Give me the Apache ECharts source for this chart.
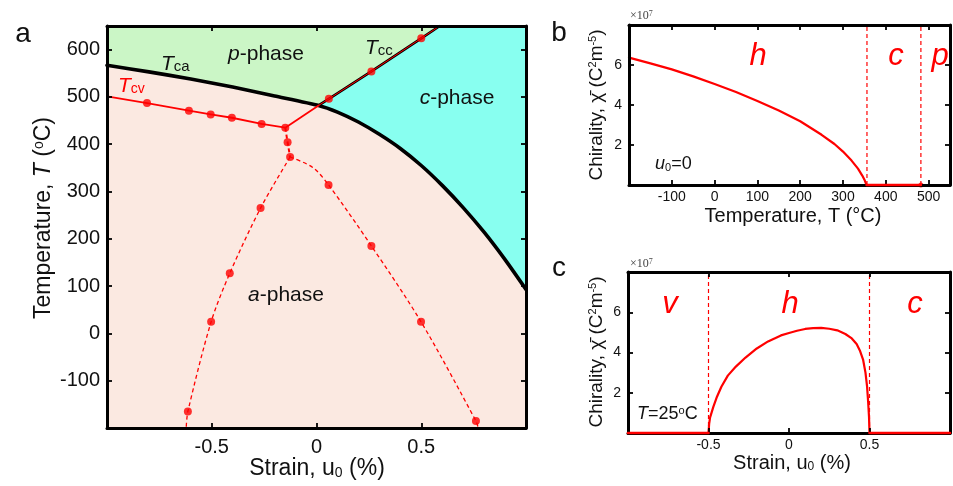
<!DOCTYPE html>
<html><head><meta charset="utf-8">
<script src="https://cdn.jsdelivr.net/npm/echarts@6/dist/echarts.min.js"></script>
<style>html,body{margin:0;padding:0;background:#fff}#c{width:953px;height:486px}</style>
</head><body><div id="c"></div>
<script>
// ---------- Panel a: phase diagram (strain %, temperature °C) ----------
const tcaLeft = [[-1,567],[-0.8,553],[-0.6,538],[-0.4,521],[-0.2,502],[0.01,482]];
const tacRight = [[0.01,482],[0.1,468],[0.2,447],[0.3,421],[0.4,391],[0.5,355],[0.6,313],[0.7,266],[0.8,214],[0.9,156],[1.0,93]];
const tccLine = [[0.01,482],[0.059,496],[0.262,554],[0.5,624],[0.588,650]];
const tccDots = [[0.059,496],[0.262,554],[0.5,624]];
const tcvLine = [[-1,501],[-0.809,487],[-0.609,471],[-0.505,463],[-0.404,456],[-0.262,443],[-0.149,435],[0.01,482]];
const tcvDots = [[-0.809,487],[-0.609,471],[-0.505,463],[-0.404,456],[-0.262,443],[-0.149,435]];
const stemLine = [[-0.149,435],[-0.138,404],[-0.126,373]];
const leftBranch = [[-0.126,373],[-0.267,265],[-0.414,127],[-0.503,24.5],[-0.614,-165],[-0.622,-200]];
const rightBranch = [[-0.126,373],[-0.018,351],[0.0575,314],[0.262,185],[0.499,24.5],[0.761,-185],[0.772,-200]];
const branchDots = [[-0.138,404],[-0.126,373],[-0.267,265],[-0.414,127],[-0.503,24.5],[-0.614,-165],[0.0575,314],[0.262,185],[0.499,24.5],[0.761,-185]];
const aXTicks = [-0.5,0,0.5];
const aYTicks = [-100,0,100,200,300,400,500,600];

// ---------- Panel b: chirality vs temperature (u0 = 0) ----------
const chiT = [[-200,6.37],[-150,6.08],[-100,5.78],[-50,5.43],[0,5.05],[50,4.65],[100,4.2],[150,3.72],[200,3.19],[250,2.51],[280,2.05],[300,1.67],[320,1.22],[335,0.82],[345,0.47],[351,0.22],[355,0]];
const chiTZero = [[355,0],[482,0]];
const bBounds = [356,482];
const bXTicks = [-100,0,100,200,300,400,500];
const bYTicks = [2,4,6];

// ---------- Panel c: chirality vs strain (T = 25 °C) ----------
const chiU = [[-0.5,0],[-0.496,0.45],[-0.49,0.78],[-0.47,1.3],[-0.45,1.75],[-0.42,2.3],[-0.38,2.85],[-0.33,3.3],[-0.27,3.75],[-0.2,4.2],[-0.13,4.55],[-0.05,4.85],[0,4.97],[0.05,5.08],[0.1,5.17],[0.15,5.21],[0.2,5.22],[0.25,5.18],[0.3,5.1],[0.35,4.92],[0.39,4.7],[0.42,4.42],[0.44,4.1],[0.46,3.65],[0.475,3.0],[0.485,2.3],[0.492,1.5],[0.497,0.8],[0.5,0]];
const chiUZeroL = [[-1,0],[-0.5,0]];
const chiUZeroR = [[0.5,0],[1,0]];
const cBounds = [-0.5,0.5];
const cXTicks = [-0.5,0,0.5];
const cYTicks = [2,4,6];

const FF = 'Liberation Sans, Arial, Helvetica, sans-serif';
const RED = '#ff0000';
const fmt = (arr) => (v) => arr.some(t => Math.abs(t - v) < 1e-9) ? String(v) : '';

function xAxes(gi, min, max, interval, ticks, fs, margin, lw) {
  const base = {
    gridIndex: gi, type: 'value', min, max, interval, z: 10,
    axisLine: {show: true, onZero: false, lineStyle: {color: '#000', width: lw}},
    axisTick: {show: true, inside: true, length: 5, lineStyle: {color: '#000', width: 1.8}},
    splitLine: {show: false}
  };
  return [
    Object.assign({}, base, {position: 'bottom', axisLabel: {formatter: fmt(ticks), fontSize: fs, color: '#111', fontFamily: FF, margin}}),
    Object.assign({}, base, {position: 'top', axisLabel: {show: false}})
  ];
}
function yAxes(gi, min, max, interval, ticks, fs, margin, lw) {
  const base = {
    gridIndex: gi, type: 'value', min, max, interval, z: 10,
    axisLine: {show: true, onZero: false, lineStyle: {color: '#000', width: lw}},
    axisTick: {show: true, inside: true, length: 5, lineStyle: {color: '#000', width: 1.8}},
    splitLine: {show: false}
  };
  return [
    Object.assign({}, base, {position: 'left', axisLabel: {formatter: fmt(ticks), fontSize: fs, color: '#111', fontFamily: FF, margin}}),
    Object.assign({}, base, {position: 'right', axisLabel: {show: false}})
  ];
}

const xAxis = [].concat(
  xAxes(0, -1, 1, 0.5, aXTicks, 20, 9, 3),
  xAxes(1, -200, 550, 100, bXTicks, 14, 5, 3),
  xAxes(2, -1, 1, 0.5, cXTicks, 14, 5, 3)
);
const yAxis = [].concat(
  yAxes(0, -200, 650, 100, aYTicks, 20, 7, 3),
  yAxes(1, 0, 8, 2, bYTicks, 14, 7, 3),
  yAxes(2, 0, 8, 2, cYTicks, 14, 7, 3)
);

const blackBoundary = tcaLeft.concat(tacRight.slice(1));
const greenBoundary = tcaLeft.concat(tccLine.slice(1), [[1,650]]);

function line(xi, yi, data, color, width, extra) {
  return Object.assign({type: 'line', xAxisIndex: xi, yAxisIndex: yi, data, showSymbol: false, symbol: 'none',
    lineStyle: {color, width, cap: 'round', join: 'round'}, animation: false, silent: true}, extra || {});
}
function dots(xi, yi, data, size) {
  return {type: 'scatter', xAxisIndex: xi, yAxisIndex: yi, data, symbolSize: size, itemStyle: {color: RED}, z: 6, animation: false, silent: true};
}
const dash = (w) => ({color: RED, width: w, type: [4, 3]});

const series = [
  // panel a fills
  line(0, 0, blackBoundary, 'transparent', 0, {smooth: 0.2, areaStyle: {origin: 'end', color: '#88fff0', opacity: 1}, z: 1}),
  line(0, 0, greenBoundary, 'transparent', 0, {areaStyle: {origin: 'end', color: '#cbf6c6', opacity: 1}, z: 1.5}),
  // panel a lines
  line(0, 0, blackBoundary, '#000', 3.6, {smooth: 0.2, z: 4}),
  line(0, 0, tccLine, '#000', 2.6, {z: 4}),
  line(0, 0, tccLine, RED, 1, {z: 5}),
  line(0, 0, tcvLine, RED, 1.8, {z: 5}),
  line(0, 0, stemLine, RED, 2, {z: 5, lineStyle: dash(2)}),
  line(0, 0, leftBranch, RED, 1.3, {smooth: 0.3, z: 5, lineStyle: dash(1.3)}),
  line(0, 0, rightBranch, RED, 1.3, {smooth: 0.3, z: 5, lineStyle: dash(1.3)}),
  dots(0, 0, tcvDots, 8),
  dots(0, 0, tccDots, 8),
  dots(0, 0, branchDots, 8),
  // panel b
  line(2, 2, chiT, RED, 2.2, {z: 5}),
  line(2, 2, chiTZero, RED, 2.6, {z: 20, clip: false}),
  dots(2, 2, [chiTZero[1]], 5),
].concat(
  bBounds.map(b => line(2, 2, [[b, 0], [b, 8]], RED, 1.2, {z: 4, lineStyle: dash(1.2)})),
  [
    line(4, 4, chiU, RED, 2.2, {z: 5}),
    line(4, 4, chiUZeroL, RED, 2.6, {z: 20, clip: false}),
    line(4, 4, chiUZeroR, RED, 2.6, {z: 20, clip: false})
  ],
  cBounds.map(b => line(4, 4, [[b, 0], [b, 8]], RED, 1.2, {z: 4, lineStyle: dash(1.2)}))
);

function txt(x, y, text, size, o) {
  o = o || {};
  return {
    type: 'text', x, y, rotation: o.rot || 0, z: 100, silent: true,
    style: {
      text, fontSize: size, fontFamily: o.ff || FF, fill: o.color || '#111',
      fontStyle: o.italic ? 'italic' : 'normal',
      align: o.align || 'center', verticalAlign: 'middle',
      rich: o.rich
    }
  };
}
const richA = (fs) => ({
  it: {fontStyle: 'italic', fontSize: fs, fontFamily: FF, fill: '#111'},
  sup: {fontSize: Math.round(fs * 0.6), fontFamily: FF, fill: '#111', verticalAlign: 'top', padding: [0, 0, Math.round(fs*0.35), 0]},
  sub: {fontSize: Math.round(fs * 0.6), fontFamily: FF, fill: '#111', verticalAlign: 'bottom', padding: [Math.round(fs*0.3), 0, 0, 0]},
  n: {fontSize: fs, fontFamily: FF, fill: '#111'}
});
const richT = (fs, sfs, color) => ({
  T: {fontStyle: 'italic', fontSize: fs, fontFamily: FF, fill: color},
  s: {fontSize: sfs, fontFamily: FF, fill: color, verticalAlign: 'bottom', padding: [Math.round(fs*0.25), 0, 0, 0]}
});
const supSerif = {sup: {fontSize: 8, fontFamily: 'Liberation Serif, serif', fill: '#444', verticalAlign: 'top', padding: [0,0,5,0]}};

const graphic = [
  // panel letters
  txt(23, 34, 'a', 28),
  txt(559, 33, 'b', 28),
  txt(559, 268, 'c', 28),
  // panel a axis names
  txt(44, 218, '{n|Temperature, }{it|T}{n| (}{sup|o}{n|C)}', 23, {rot: Math.PI / 2, rich: richA(23)}),
  txt(317, 469, '{n|Strain, u}{sub|0}{n| (%)}', 23, {rich: richA(23)}),
  // panel a labels
  txt(161, 64, '{T|T}{s|ca}', 20, {align: 'left', rich: richT(21, 15, '#111')}),
  txt(365, 48, '{T|T}{s|cc}', 20, {align: 'left', rich: richT(21, 15, '#111')}),
  txt(118, 86, '{T|T}{s|cv}', 20, {align: 'left', rich: richT(21, 14, RED)}),
  txt(266, 54, '{it|p}{n|-phase}', 21, {rich: richA(21)}),
  txt(457, 98, '{it|c}{n|-phase}', 21, {rich: richA(21)}),
  txt(286, 295, '{it|a}{n|-phase}', 21, {rich: richA(21)}),
  // panel b/c multipliers
  txt(630, 16, '×10{sup|7}', 12, {align: 'left', ff: 'Liberation Serif, serif', color: '#444', rich: supSerif}),
  txt(630, 264, '×10{sup|7}', 12, {align: 'left', ff: 'Liberation Serif, serif', color: '#444', rich: supSerif}),
  // panel b/c axis names
  txt(597, 105, '{n|Chirality, χ̄ (C}{sup|2}{n|m}{sup|-5}{n|)}', 19, {rot: Math.PI / 2, rich: richA(19)}),
  txt(597, 352, '{n|Chirality, χ̄ (C}{sup|2}{n|m}{sup|-5}{n|)}', 19, {rot: Math.PI / 2, rich: richA(19)}),
  txt(793, 216, 'Temperature, T (°C)', 20),
  txt(792, 463, '{n|Strain, u}{sub|0}{n| (%)}', 20, {rich: richA(20)}),
  // panel b labels
  txt(758, 56, 'h', 31, {italic: true, color: RED}),
  txt(896, 56, 'c', 31, {italic: true, color: RED}),
  txt(940, 56, 'p', 31, {italic: true, color: RED}),
  txt(655, 164, '{it|u}{sub|0}{n|=0}', 18, {align: 'left', rich: richA(18)}),
  // panel c labels
  txt(670, 304, 'v', 31, {italic: true, color: RED}),
  txt(790, 304, 'h', 31, {italic: true, color: RED}),
  txt(915, 304, 'c', 31, {italic: true, color: RED}),
  txt(637, 414, '{it|T}{n|=25}{sup|o}{n|C}', 18, {align: 'left', rich: richA(18)})
];

const chart = echarts.init(document.getElementById('c'), null, {renderer: 'canvas'});
chart.setOption({
  backgroundColor: '#fff',
  animation: false,
  grid: [
    {left: 107, right: 427, top: 26, bottom: 58, show: true, backgroundColor: '#fbe9e1', borderWidth: 0},
    {left: 629, right: -2, top: 25, bottom: 301, show: false},
    {left: 628, right: -3, top: 272, bottom: 53, show: false}
  ],
  xAxis, yAxis, series, graphic
});
</script></body></html>
